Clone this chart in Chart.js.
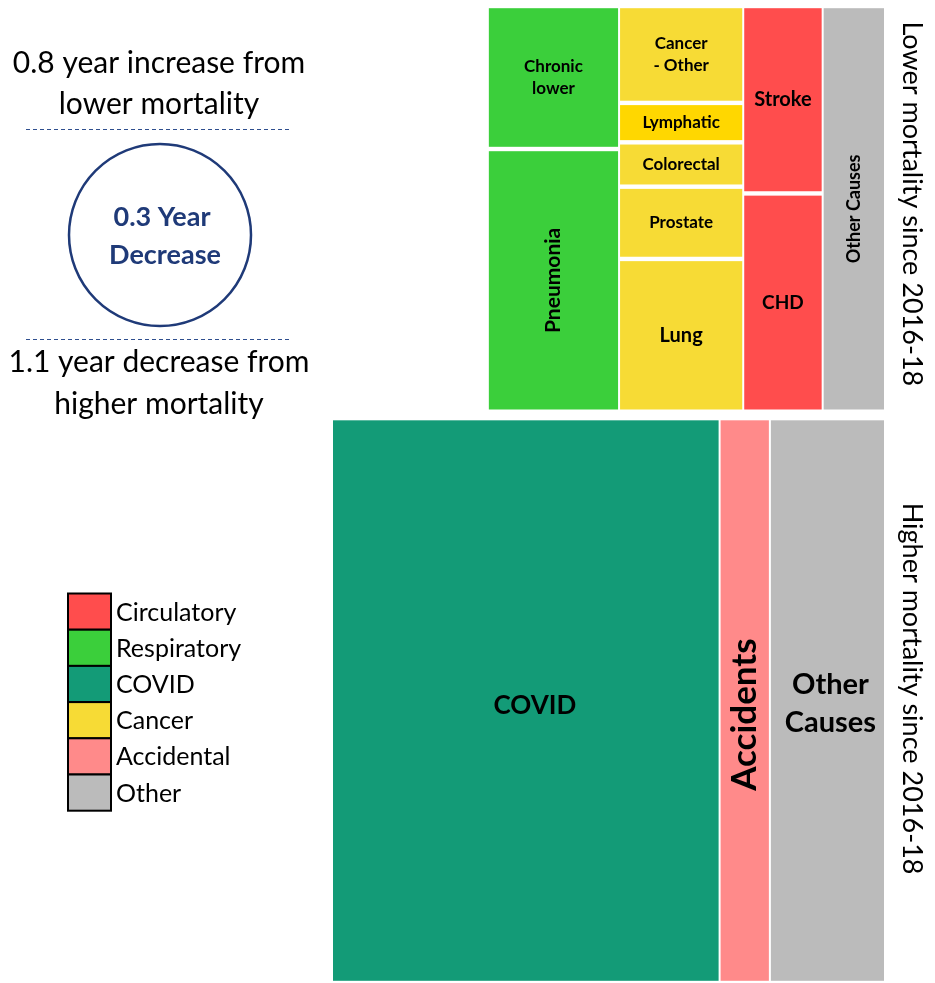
<!DOCTYPE html>
<html>
<head>
<meta charset="utf-8">
<script src="https://cdn.jsdelivr.net/npm/chart.js@4/dist/chart.umd.min.js"></script>
<style>
  html, body { margin: 0; padding: 0; background: #ffffff; }
  canvas { display: block; }
</style>
</head>
<body>
<canvas id="chart" width="935" height="983"></canvas>
<script>
// Causes with lower mortality since 2016-18 (years of life expectancy gained)
const lowerCauses = ['Chronic\nlower', 'Pneumonia', 'Cancer\n- Other', 'Lymphatic', 'Colorectal', 'Prostate', 'Lung', 'Stroke', 'CHD', 'Other Causes'];
const lowerGroups = ['Respiratory', 'Respiratory', 'Cancer', 'Cancer', 'Cancer', 'Cancer', 'Cancer', 'Circulatory', 'Circulatory', 'Other'];
const lowerValues = [0.092, 0.169, 0.059, 0.024, 0.027, 0.044, 0.093, 0.073, 0.085, 0.124];

// Causes with higher mortality since 2016-18 (years of life expectancy lost)
const higherCauses = ['COVID', 'Accidents', 'Other\nCauses'];
const higherGroups = ['COVID', 'Accidental', 'Other'];
const higherValues = [0.771, 0.100, 0.229];

const legendLabels = ['Circulatory', 'Respiratory', 'COVID', 'Cancer', 'Accidental', 'Other'];
const lowerTitle = 'Lower mortality since 2016-18';
const higherTitle = 'Higher mortality since 2016-18';

// ---- styling ----
const groupColours = {
  Circulatory: '#FF4D4D',
  Respiratory: '#3BCF3B',
  COVID: '#139B77',
  Cancer: '#F7DB35',
  Accidental: '#FF8A8A',
  Other: '#BBBBBB'
};
const causeColourOverrides = { 'Lymphatic': '#FFD700' };
const lowerLabelSize = [17, 21, 17, 17, 17, 17, 20, 20, 19, 18];
const lowerLabelRotated = [false, true, false, false, false, false, false, false, false, true];
const higherLabelSize = [26, 35, 29];
const higherLabelRotated = [false, true, false];
const higherLabelShift = [[9, 5], [0, 14], [3, 3]];   // small nudges of the big labels, px

const FONT = 'Lato, "Open Sans", sans-serif';
const NAVY = '#1F3A78';
const BLOCK_GAP = 0.0125;   // vertical spacing between the two blocks, in years
const INSET_X = 1, INSET_Y = 2.2;

const sum = a => a.reduce((s, v) => s + v, 0);
const lowerTotal = sum(lowerValues);
const higherTotal = sum(higherValues);
const net = lowerTotal - higherTotal;

// Slice-and-dice layout: one column per group (width = group total),
// items stacked inside the column; the block is right-aligned at x = 0.
function layoutBlock(groups, values, yBase) {
  const total = sum(values);
  const cols = [];
  groups.forEach((g, i) => {
    let c = cols.find(col => col.group === g);
    if (!c) { c = { group: g, items: [], total: 0 }; cols.push(c); }
    c.items.push(i);
    c.total += values[i];
  });
  const rects = [];
  let x0 = -total;
  cols.forEach(c => {
    let yTop = yBase + total;
    c.items.forEach(i => {
      const h = values[i] / c.total * total;
      rects.push({ index: i, x0: x0, x1: x0 + c.total, y0: yTop - h, y1: yTop });
      yTop -= h;
    });
    x0 += c.total;
  });
  return rects;
}

function drawLabel(ctx, text, cx, cy, size, rotated) {
  const lines = text.split('\n');
  const lh = size * 1.3;
  ctx.save();
  ctx.translate(cx, cy);
  if (rotated) ctx.rotate(-Math.PI / 2);
  ctx.font = `bold ${size}px ${FONT}`;
  ctx.fillStyle = '#000000';
  ctx.textAlign = 'center';
  ctx.textBaseline = 'middle';
  lines.forEach((ln, k) => ctx.fillText(ln, 0, (k - (lines.length - 1) / 2) * lh));
  ctx.restore();
}

const treemapPlugin = {
  id: 'mortalityTreemap',
  afterDatasetsDraw(chart) {
    const { ctx, scales: { x, y } } = chart;

    const blocks = [
      { causes: higherCauses, groups: higherGroups, sizes: higherLabelSize, rot: higherLabelRotated, shift: higherLabelShift,
        rects: layoutBlock(higherGroups, higherValues, 0), title: higherTitle, titleShift: -12 },
      { causes: lowerCauses, groups: lowerGroups, sizes: lowerLabelSize, rot: lowerLabelRotated, shift: null,
        rects: layoutBlock(lowerGroups, lowerValues, higherTotal + BLOCK_GAP), title: lowerTitle, titleShift: -5 }
    ];

    blocks.forEach(b => {
      let blockTop = Infinity, blockBottom = -Infinity;
      b.rects.forEach(r => {
        const left = x.getPixelForValue(r.x0) + INSET_X;
        const right = x.getPixelForValue(r.x1) - INSET_X;
        const top = y.getPixelForValue(r.y1) + INSET_Y;
        const bottom = y.getPixelForValue(r.y0) - INSET_Y;
        blockTop = Math.min(blockTop, top);
        blockBottom = Math.max(blockBottom, bottom);
        const name = b.causes[r.index];
        ctx.fillStyle = causeColourOverrides[name] || groupColours[b.groups[r.index]];
        ctx.fillRect(left, top, right - left, bottom - top);
        const s = b.shift ? b.shift[r.index] : [0, 0];
        drawLabel(ctx, name, (left + right) / 2 + s[0], (top + bottom) / 2 + s[1], b.sizes[r.index], b.rot[r.index]);
      });
      // block title, reading downwards on the right
      ctx.save();
      ctx.translate(x.right + 27, (blockTop + blockBottom) / 2 + b.titleShift);
      ctx.rotate(Math.PI / 2);
      ctx.font = `27px ${FONT}`;
      ctx.fillStyle = '#000000';
      ctx.textAlign = 'center';
      ctx.textBaseline = 'middle';
      ctx.fillText(b.title, 0, 0);
      ctx.restore();
    });

    // summary annotations on the left
    const cx = 159;
    ctx.save();
    ctx.fillStyle = '#000000';
    ctx.textAlign = 'center';
    ctx.textBaseline = 'middle';
    ctx.font = `30px ${FONT}`;
    ctx.fillText(`${lowerTotal.toFixed(1)} year increase from`, cx, 63);
    ctx.fillText('lower mortality', cx, 104);
    ctx.fillText(`${higherTotal.toFixed(1)} year decrease from`, cx, 362);
    ctx.fillText('higher mortality', cx, 404);

    ctx.strokeStyle = '#2F4F8F';
    ctx.lineWidth = 1;
    ctx.setLineDash([4, 3]);
    [129.5, 339.5].forEach(yy => {
      ctx.beginPath(); ctx.moveTo(26, yy); ctx.lineTo(291, yy); ctx.stroke();
    });
    ctx.setLineDash([]);

    ctx.strokeStyle = NAVY;
    ctx.lineWidth = 2.5;
    ctx.beginPath(); ctx.arc(160, 235, 91, 0, Math.PI * 2); ctx.stroke();
    ctx.fillStyle = NAVY;
    ctx.font = `bold 27px ${FONT}`;
    ctx.fillText(`${Math.abs(net).toFixed(1)} Year`, 162, 217);
    ctx.fillText(net < 0 ? 'Decrease' : 'Increase', 165, 255);
    ctx.restore();

    // colour key
    const lx = 68, ly = 593.5, lw = 43, lh = 36.2;
    ctx.save();
    legendLabels.forEach((lab, i) => {
      ctx.fillStyle = groupColours[lab];
      ctx.fillRect(lx, ly + i * lh, lw, lh);
      ctx.strokeStyle = '#000000';
      ctx.lineWidth = 2;
      ctx.strokeRect(lx, ly + i * lh, lw, lh);
      ctx.fillStyle = '#000000';
      ctx.font = `25px ${FONT}`;
      ctx.textAlign = 'left';
      ctx.textBaseline = 'middle';
      ctx.fillText(lab, lx + lw + 5, ly + i * lh + lh / 2 + 1);
    });
    ctx.restore();
  }
};

new Chart(document.getElementById('chart'), {
  type: 'scatter',
  data: { datasets: [] },
  options: {
    responsive: false,
    animation: false,
    events: [],
    layout: { padding: { left: 332, right: 50, top: 6, bottom: 0 } },
    scales: {
      x: { type: 'linear', display: false, min: -Math.max(lowerTotal, higherTotal), max: 0 },
      y: { type: 'linear', display: false, min: 0, max: higherTotal + BLOCK_GAP + lowerTotal }
    },
    plugins: { legend: { display: false }, tooltip: { enabled: false } }
  },
  plugins: [treemapPlugin]
});
</script>
</body>
</html>
